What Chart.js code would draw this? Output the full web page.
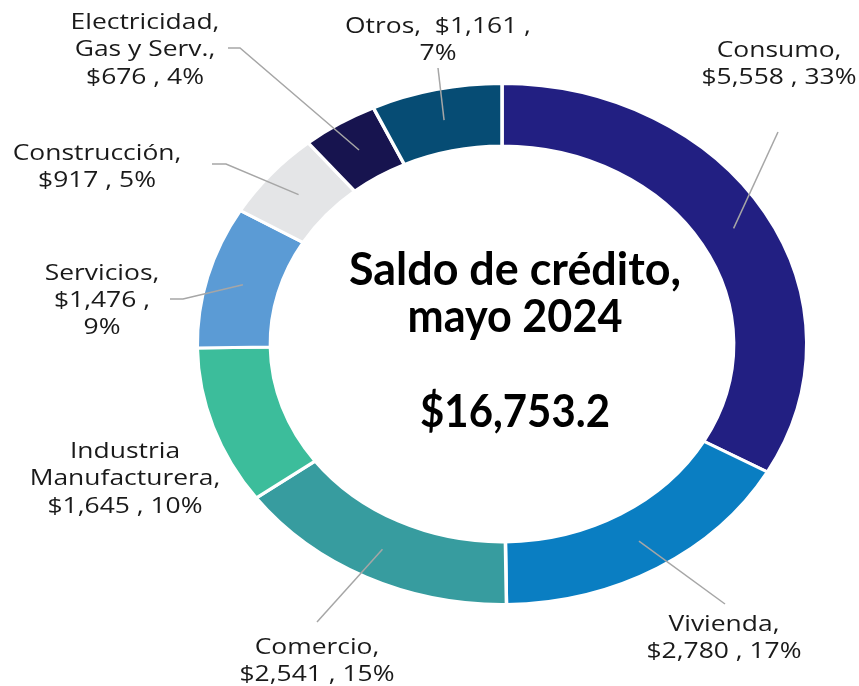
<!DOCTYPE html>
<html>
<head>
<meta charset="utf-8">
<script src="https://cdn.jsdelivr.net/npm/chart.js@4/dist/chart.umd.min.js"></script>
<style>
html,body{margin:0;padding:0;background:#ffffff;}
#wrap{width:859px;height:686px;position:relative;}
canvas{display:block;}
</style>
</head>
<body>
<div id="wrap"><canvas id="c" width="859" height="686"></canvas></div>
<script>
// ---------- DATA ----------
const categories = ['Consumo', 'Vivienda', 'Comercio', 'Industria Manufacturera', 'Servicios', 'Construcción', 'Electricidad, Gas y Serv.', 'Otros'];
const values = [5558, 2780, 2541, 1645, 1476, 917, 676, 1161];
const percents = [33, 17, 15, 10, 9, 5, 4, 7];
const centerTitle = ['Saldo de crédito,', 'mayo 2024'];
const centerTotal = '$16,753.2';

// ---------- STYLE / LAYOUT ----------
const colors = ['#221F82', '#0A7EC2', '#379C9F', '#3CBD9B', '#5B9BD5', '#E4E5E7', '#17144F', '#064C74'];
const SX = 1.17;          // horizontal stretch of the whole picture
const CX = 502, CY = 344; // ring center
const fmt = v => '$' + v.toLocaleString('en-US');

// how each label wraps (text is built from the data arrays)
function labelText(i) {
  const name = categories[i], money = fmt(values[i]), pct = percents[i] + '%';
  switch (i) {
    case 3: return ['Industria', 'Manufacturera,', money + ' , ' + pct];
    case 4: return [name + ',', money + ' ,', pct];
    case 6: return ['Electricidad,', 'Gas y Serv.,', money + ' , ' + pct];
    case 7: return [name + ',  ' + money + ' ,', pct];
    default: return [name + ',', money + ' , ' + pct];
  }
}
// label anchor (center x, cap-middle y of first line) and leader start points
const labelLayout = [
  {x: 779, y: 48.5, lead: [[778, 132]]},
  {x: 724, y: 623, lead: [[725, 604]]},
  {x: 317, y: 646, lead: [[317, 622]]},
  {x: 125, y: 450, lead: null},
  {x: 102, y: 271.5, lead: [[170, 299], [183, 299]]},
  {x: 97, y: 151.5, lead: [[212, 164], [226, 164]]},
  {x: 145, y: 21, lead: [[228, 48], [240, 48]]},
  {x: 438, y: 24.5, lead: [[438, 68]]}
];
const LINE_H = 27.4;
const LABEL_FONT = '21.5px "Open Sans"';
const LABEL_REF_W = 155; // width of "$2,780 , 17%" in picture

const centerLayout = [
  {text: centerTitle[0], base: 285, w: 332},
  {text: centerTitle[1], base: 332, w: 215},
  {text: centerTotal, base: 427, w: 190}
];
const CENTER_X = 515;
const CENTER_FONT = 'bold 46px Lato';

const stretchPlugin = {
  id: 'stretch',
  beforeDatasetsDraw(chart) {
    const ctx = chart.ctx;
    ctx.save();
    ctx.translate(CX, 0);
    ctx.scale(SX, 1);
    ctx.translate(-CX, 0);
  },
  afterDatasetsDraw(chart) {
    chart.ctx.restore();
  }
};

const labelPlugin = {
  id: 'labels',
  afterDraw(chart) {
    const ctx = chart.ctx;
    const meta = chart.getDatasetMeta(0);
    // leader lines
    ctx.save();
    ctx.strokeStyle = '#A6A6A6';
    ctx.lineWidth = 1.5;
    meta.data.forEach((arc, i) => {
      const L = labelLayout[i];
      if (!L.lead) return;
      const p = arc.getProps(['x', 'y', 'startAngle', 'endAngle', 'innerRadius', 'outerRadius'], true);
      const mid = (p.startAngle + p.endAngle) / 2;
      const r = (p.innerRadius + p.outerRadius) / 2;
      const ex = p.x + SX * r * Math.cos(mid);
      const ey = p.y + r * Math.sin(mid);
      ctx.beginPath();
      ctx.moveTo(L.lead[0][0], L.lead[0][1]);
      for (let k = 1; k < L.lead.length; k++) ctx.lineTo(L.lead[k][0], L.lead[k][1]);
      ctx.lineTo(ex, ey);
      ctx.stroke();
    });
    ctx.restore();

    // label texts
    ctx.save();
    ctx.font = LABEL_FONT;
    ctx.fillStyle = '#1a1a1a';
    ctx.textAlign = 'center';
    ctx.textBaseline = 'alphabetic';
    const capH = ctx.measureText('H').actualBoundingBoxAscent;
    const lsx = LABEL_REF_W / ctx.measureText(fmt(values[1]) + ' , ' + percents[1] + '%').width;
    labelLayout.forEach((L, i) => {
      labelText(i).forEach((line, k) => {
        ctx.save();
        ctx.translate(L.x, L.y + k * LINE_H + capH / 2);
        ctx.scale(lsx, 1);
        ctx.fillText(line, 0, 0);
        ctx.restore();
      });
    });
    ctx.restore();

    // center text
    ctx.save();
    ctx.font = CENTER_FONT;
    ctx.fillStyle = '#000000';
    ctx.textAlign = 'center';
    ctx.textBaseline = 'alphabetic';
    centerLayout.forEach(c => {
      const w = ctx.measureText(c.text).width;
      ctx.save();
      ctx.translate(CENTER_X, c.base);
      ctx.scale(c.w / w, 1);
      ctx.fillText(c.text, 0, 0);
      ctx.restore();
    });
    ctx.restore();
  }
};

new Chart(document.getElementById('c'), {
  type: 'doughnut',
  data: {
    labels: categories,
    datasets: [{
      data: values,
      backgroundColor: colors,
      borderColor: '#ffffff',
      borderWidth: 3,
      clip: false
    }]
  },
  options: {
    responsive: false,
    animation: false,
    devicePixelRatio: 1,
    cutout: '76%',
    layout: {padding: {left: 240, right: 95, top: 82, bottom: 80}},
    plugins: {legend: {display: false}, tooltip: {enabled: false}, title: {display: false}},
    events: []
  },
  plugins: [stretchPlugin, labelPlugin]
});
</script>
</body>
</html>
